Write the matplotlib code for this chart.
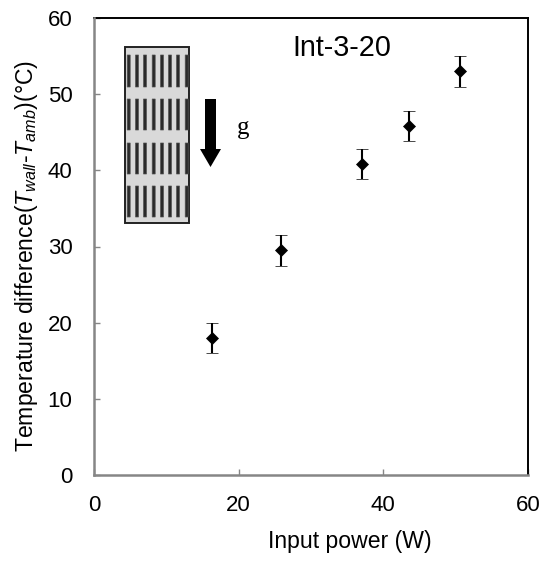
import matplotlib
matplotlib.use("Agg")
import matplotlib.pyplot as plt
from matplotlib.patches import Rectangle, Polygon

plt.rcParams['font.family'] = ['Liberation Sans', 'DejaVu Sans']
plt.rcParams['mathtext.fontset'] = 'custom'
plt.rcParams['mathtext.rm'] = 'Liberation Sans'
plt.rcParams['mathtext.it'] = 'Liberation Sans:italic'
plt.rcParams['mathtext.bf'] = 'Liberation Sans:bold'

power = [16.3, 25.9, 37.1, 43.6, 50.6]
temp_diff = [18.0, 29.5, 40.8, 45.8, 53.0]
temp_err = [2.0, 2.0, 2.0, 2.0, 2.0]
xticks = [0, 20, 40, 60]
yticks = [0, 10, 20, 30, 40, 50, 60]
slot_cols = [128.7, 137, 145, 153.7, 162, 170, 178, 186.7]
slot_rows = [(55, 87), (99, 130), (143, 174), (186, 217)]

W, H = 549, 563
fig = plt.figure(figsize=(W / 100, H / 100), dpi=100)
L, R, T, B = 94, 528, 18, 475
ax = fig.add_axes([L / W, 1 - B / H, (R - L) / W, (B - T) / H])
ax.set_xlim(0, 60)
ax.set_ylim(0, 60)
ax.set_xticks(xticks)
ax.set_yticks(yticks)
ax.tick_params(axis='both', direction='in', length=4.5, width=1, color='#868686',
               labelsize=16, labelcolor='black')
ax.tick_params(axis='y', pad=15.5)
ax.tick_params(axis='x', pad=14.5)
for s in ('left', 'bottom'):
    ax.spines[s].set_color('#868686')
    ax.spines[s].set_linewidth(1.8)
    ax.spines[s].set_zorder(3)
for s in ('top', 'right'):
    ax.spines[s].set_color('black')
    ax.spines[s].set_linewidth(1.4)

ax.errorbar(power, temp_diff, yerr=temp_err, fmt='D', color='black', ms=6.2, mew=0.5,
            elinewidth=1.5, capsize=4.3, capthick=1.5, zorder=5)

fig.text(432 / W, 1 - 548 / H, 'Input power (W)', fontsize=16.6, ha='right', va='baseline')
fig.text(27 / W, 1 - 256 / H, r'Temperature difference($T_{wall}$-$T_{amb}$)(°C)',
         fontsize=16.6, rotation=90, ha='center', va='center')
fig.text(341.5 / W, 1 - 56 / H, 'Int-3-20', fontsize=20.7, ha='center', va='baseline')

# Inset sketch drawn on an overlay in pixel coordinates
ov = fig.add_axes([0, 0, 1, 1], facecolor='none')
ov.set_xlim(0, W)
ov.set_ylim(H, 0)
ov.axis('off')
ov.add_patch(Rectangle((125, 47), 64, 176, fc='#d9d9d9', ec='#222222', lw=1.4))
for top, bot in slot_rows:
    for cx in slot_cols:
        ov.add_patch(Rectangle((cx - 1.5, top), 3.0, bot - top, fc='#2a2a2a', ec='#555555',
                               lw=0.5, snap=False))
ov.add_patch(Polygon([(205, 99), (216, 99), (216, 149), (221, 149), (210.5, 167),
                      (200, 149), (205, 149)], closed=True, fc='black', ec='none'))
ov.text(243, 134, 'g', fontsize=18, family='Liberation Serif', ha='center', va='baseline')

fig.savefig('out.png', dpi=100)
